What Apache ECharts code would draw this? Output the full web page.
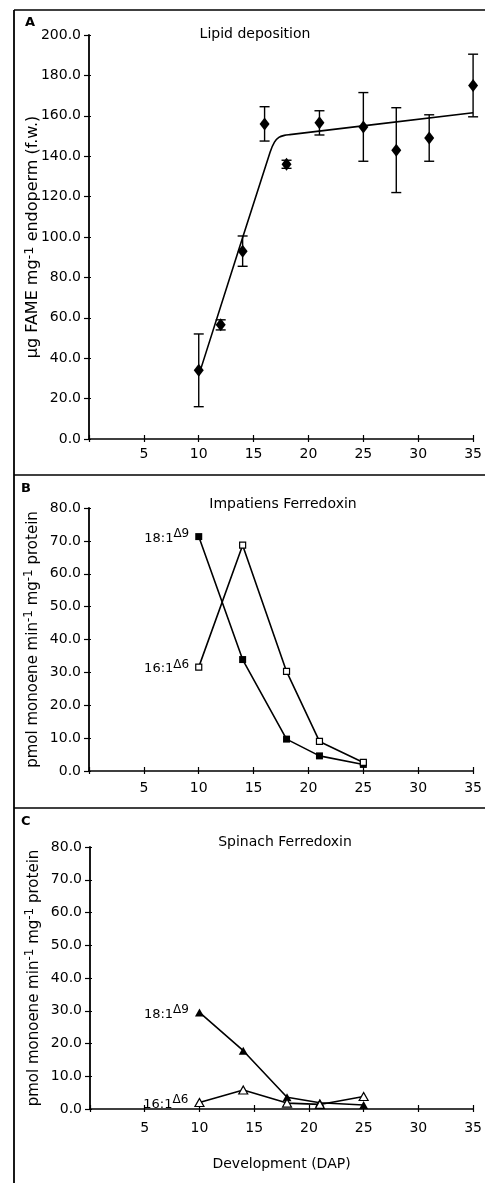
<!DOCTYPE html>
<html>
<head>
<meta charset="utf-8">
<script src="https://cdn.jsdelivr.net/npm/echarts@6/dist/echarts.min.js"></script>
<style>
  html, body { margin: 0; padding: 0; background: #fff; }
  #chart { width: 485px; height: 1183px; }
</style>
</head>
<body>
<div id="chart"></div>
<script>
// Panel A: lipid deposition (mean +/- error)
const daysA = [10, 12, 14, 16, 18, 21, 25, 28, 31, 35];
const lipidMean = [34, 56.5, 93, 156, 136, 156.5, 154.5, 143, 149, 175];
const lipidErr = [18, 2.5, 7.5, 8.5, 2, 6, 17, 21, 11.5, 15.5];
// fitted curve as drawn
const fitDays = [10, 16.5, 16.9, 17.3, 17.8, 18.3, 35];
const fitValues = [31.5, 142, 147, 149.3, 150.3, 150.7, 161.5];

// Panels B and C: desaturase activity
const daysBC = [10, 14, 18, 21, 25];
const impat18 = [71.3, 33.9, 9.7, 4.6, 2.0];
const impat16 = [31.6, 68.7, 30.3, 9.0, 2.6];
const spin18 = [29.5, 17.8, 3.6, 1.9, 1.2];
const spin16 = [2.0, 5.8, 1.8, 1.4, 3.8];

const FONT = '"DejaVu Sans", Verdana, sans-serif';
const BLACK = '#000';

const chart = echarts.init(document.getElementById('chart'));

const grids = [
  { left: 89, top: 35, width: 389, height: 404 },
  { left: 89, top: 508, width: 389, height: 263 },
  { left: 90, top: 847, width: 389, height: 262 }
];

// y axis settings per panel
const yCfg = [
  { max: 200, interval: 20, nameSize: 16, name: '{a|µg FAME mg}{s|-1}{a| endoperm (f.w.)}' },
  { max: 80, interval: 10, nameSize: 15, name: '{a|pmol monoene min}{s|-1}{a| mg}{s|-1}{a| protein}' },
  { max: 80, interval: 10, nameSize: 15, name: '{a|pmol monoene min}{s|-1}{a| mg}{s|-1}{a| protein}' }
];

function nameRich(size) {
  return {
    a: { fontSize: size, fontFamily: FONT, color: BLACK, lineHeight: 18, verticalAlign: 'bottom' },
    s: { fontSize: size - 3, fontFamily: FONT, color: BLACK, lineHeight: 13, verticalAlign: 'top' }
  };
}

const xAxes = [];
const yAxes = [];
grids.forEach((g, i) => {
  // main axes: outward ticks + labels
  xAxes.push({
    gridIndex: i, type: 'value', min: 0, max: 35, interval: 5,
    axisLine: { lineStyle: { color: BLACK, width: 1.5 } },
    axisTick: { length: 3, lineStyle: { color: BLACK, width: 1.2 } },
    axisLabel: {
      color: BLACK, fontSize: 14, fontFamily: FONT, margin: [8, 10, 12][i],
      formatter: v => (v === 0 ? '' : String(v))
    },
    splitLine: { show: false },
    name: i === 2 ? 'Development (DAP)' : '',
    nameLocation: 'middle', nameGap: 48,
    nameTextStyle: { color: BLACK, fontSize: 14, fontFamily: FONT }
  });
  // overlay axes: inward ticks only (cross ticks)
  xAxes.push({
    gridIndex: i, type: 'value', min: 0, max: 35, interval: 5, position: 'bottom',
    axisLine: { show: false },
    axisTick: { inside: true, length: 4, lineStyle: { color: BLACK, width: 1.2 } },
    axisLabel: { show: false }, splitLine: { show: false }
  });
  yAxes.push({
    gridIndex: i, type: 'value', min: 0, max: yCfg[i].max, interval: yCfg[i].interval,
    axisLine: { show: true, lineStyle: { color: BLACK, width: 1.8 } },
    axisTick: { show: true, length: 5, lineStyle: { color: BLACK, width: 1.2 } },
    axisLabel: {
      color: BLACK, fontSize: 14, fontFamily: FONT, margin: 8,
      formatter: v => v.toFixed(1)
    },
    splitLine: { show: false },
    name: yCfg[i].name, nameLocation: 'middle', nameGap: 48, nameRotate: 90,
    nameMoveOverlap: false,
    nameTextStyle: { rich: nameRich(yCfg[i].nameSize) }
  });
  yAxes.push({
    gridIndex: i, type: 'value', min: 0, max: yCfg[i].max, interval: yCfg[i].interval, position: 'left',
    axisLine: { show: false },
    axisTick: { show: true, inside: true, length: 2, lineStyle: { color: BLACK, width: 1.2 } },
    axisLabel: { show: false }, splitLine: { show: false }
  });
});

const pair = (xs, ys) => xs.map((x, k) => [x, ys[k]]);

const labelRich = {
  a: { fontSize: 13, fontFamily: FONT, color: BLACK, lineHeight: 17, verticalAlign: 'bottom' },
  s: { fontSize: 12, fontFamily: FONT, color: BLACK, lineHeight: 13, verticalAlign: 'top' }
};
function tagFirst(xs, ys, text) {
  return xs.map((x, k) => {
    const item = { value: [x, ys[k]] };
    if (k === 0) {
      item.label = { show: true, position: 'left', distance: 6, formatter: text, rich: labelRich };
    }
    return item;
  });
}

function lineSeries(gi, xs, ys, text, symbol, size, filled) {
  return {
    type: 'line', xAxisIndex: gi * 2, yAxisIndex: gi * 2,
    data: tagFirst(xs, ys, text),
    symbol: symbol, symbolSize: size, showSymbol: true,
    lineStyle: { color: BLACK, width: 1.6 },
    itemStyle: { color: filled ? BLACK : '#fff', borderColor: BLACK, borderWidth: filled ? 0 : 1.2, opacity: 1 },
    emphasis: { disabled: true },
    animation: false, z: filled ? 3 : 4
  };
}

const TRI = 'path://M5,0 L10,9 L0,9 Z';

const titleStyle = { fontSize: 14, fontWeight: 'normal', color: BLACK, fontFamily: FONT };
const tagStyle = { fontSize: 13, fontWeight: 'bold', color: BLACK, fontFamily: FONT };

const option = {
  animation: false,
  backgroundColor: '#fff',
  grid: grids,
  xAxis: xAxes,
  yAxis: yAxes,
  title: [
    { text: 'Lipid deposition', left: 255, top: 27, padding: 0, textAlign: 'center', textStyle: titleStyle },
    { text: 'Impatiens Ferredoxin', left: 283, top: 497, padding: 0, textAlign: 'center', textStyle: titleStyle },
    { text: 'Spinach Ferredoxin', left: 285, top: 835, padding: 0, textAlign: 'center', textStyle: titleStyle },
    { text: 'A', left: 25, top: 16, padding: 0, textStyle: tagStyle },
    { text: 'B', left: 21, top: 482, padding: 0, textStyle: tagStyle },
    { text: 'C', left: 21, top: 815, padding: 0, textStyle: tagStyle }
  ],
  graphic: [
    { type: 'line', shape: { x1: 14, y1: 10, x2: 14, y2: 1183 }, style: { stroke: BLACK, lineWidth: 1.8 } },
    { type: 'line', shape: { x1: 14, y1: 10, x2: 485, y2: 10 }, style: { stroke: BLACK, lineWidth: 1.5 } },
    { type: 'line', shape: { x1: 14, y1: 475, x2: 485, y2: 475 }, style: { stroke: BLACK, lineWidth: 1.5 } },
    { type: 'line', shape: { x1: 14, y1: 808, x2: 485, y2: 808 }, style: { stroke: BLACK, lineWidth: 1.5 } }
  ],
  series: [
    // Panel A fitted line
    {
      type: 'line', xAxisIndex: 0, yAxisIndex: 0,
      data: pair(fitDays, fitValues), showSymbol: false, smooth: 0.3,
      lineStyle: { color: BLACK, width: 1.6 }, z: 2
    },
    // Panel A error bars
    {
      type: 'custom', xAxisIndex: 0, yAxisIndex: 0,
      data: daysA.map((d, k) => [d, lipidMean[k] - lipidErr[k], lipidMean[k] + lipidErr[k]]),
      renderItem: function (params, api) {
        const lo = api.coord([api.value(0), api.value(1)]);
        const hi = api.coord([api.value(0), api.value(2)]);
        const w = 5;
        const st = { stroke: BLACK, lineWidth: 1.4 };
        return {
          type: 'group',
          children: [
            { type: 'line', shape: { x1: lo[0], y1: lo[1], x2: hi[0], y2: hi[1] }, style: st },
            { type: 'line', shape: { x1: lo[0] - w, y1: lo[1], x2: lo[0] + w, y2: lo[1] }, style: st },
            { type: 'line', shape: { x1: hi[0] - w, y1: hi[1], x2: hi[0] + w, y2: hi[1] }, style: st }
          ]
        };
      },
      z: 3
    },
    // Panel A means
    {
      type: 'scatter', xAxisIndex: 0, yAxisIndex: 0,
      data: pair(daysA, lipidMean), symbol: 'diamond', symbolSize: [10, 13],
      itemStyle: { color: BLACK, opacity: 1 }, z: 4
    },
    // Panel B
    lineSeries(1, daysBC, impat18, '{a|18:1}{s|Δ9}', 'rect', 7, true),
    lineSeries(1, daysBC, impat16, '{a|16:1}{s|Δ6}', 'rect', 6, false),
    // Panel C
    lineSeries(2, daysBC, spin18, '{a|18:1}{s|Δ9}', TRI, [9, 8], true),
    lineSeries(2, daysBC, spin16, '{a|16:1}{s|Δ6}', TRI, [9, 8], false)
  ]
};

chart.setOption(option);
</script>
</body>
</html>
